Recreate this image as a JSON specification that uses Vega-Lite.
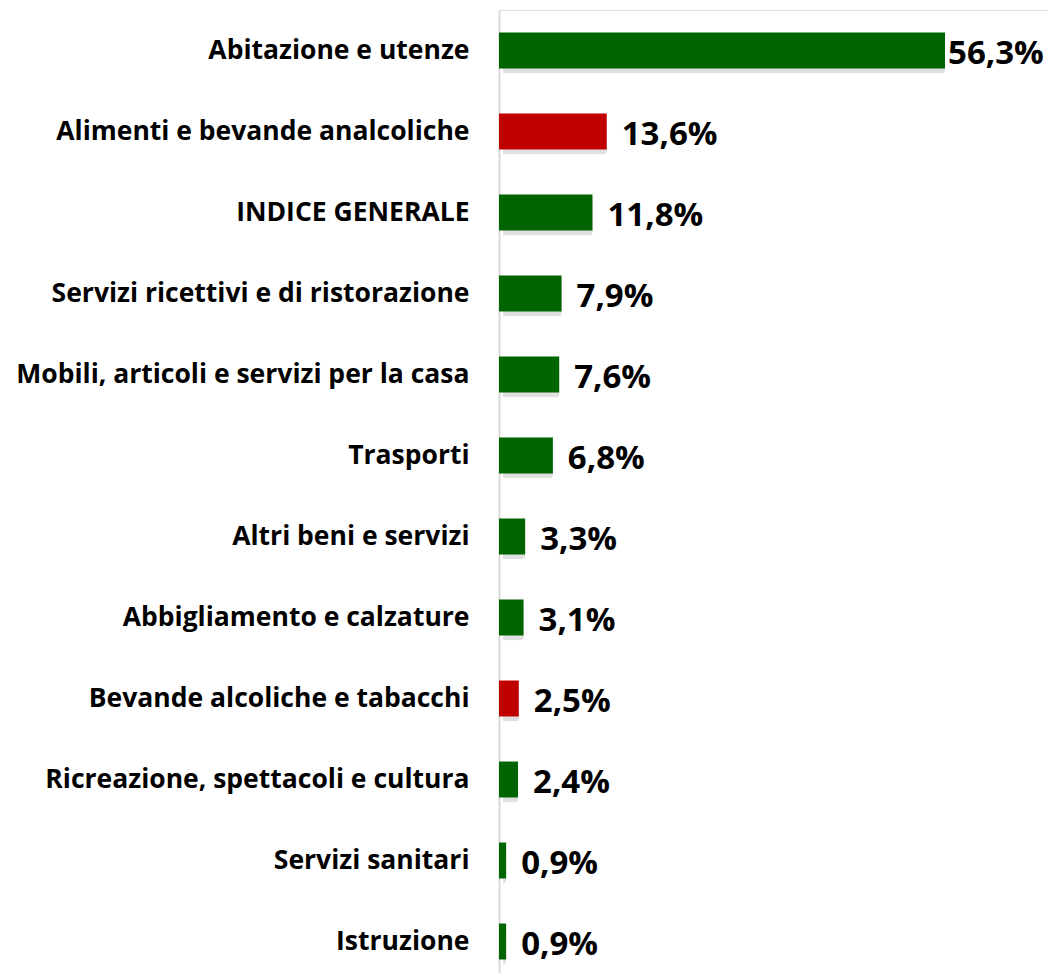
{
  "$schema": "https://vega.github.io/schema/vega-lite/v6.json",
  "autosize": {"type": "none"},
  "padding": {"left": 499, "top": 10, "right": 0, "bottom": 0},
  "width": 549,
  "height": 972,
  "background": "white",
  "data": {"values": [
    {"categoria": "Abitazione e utenze", "valore": 56.3, "label": "56,3%", "tipo": "verde"},
    {"categoria": "Alimenti e bevande analcoliche", "valore": 13.6, "label": "13,6%", "tipo": "rosso"},
    {"categoria": "INDICE GENERALE", "valore": 11.8, "label": "11,8%", "tipo": "verde"},
    {"categoria": "Servizi ricettivi e di ristorazione", "valore": 7.9, "label": "7,9%", "tipo": "verde"},
    {"categoria": "Mobili, articoli e servizi per la casa", "valore": 7.6, "label": "7,6%", "tipo": "verde"},
    {"categoria": "Trasporti", "valore": 6.8, "label": "6,8%", "tipo": "verde"},
    {"categoria": "Altri beni e servizi ", "valore": 3.3, "label": "3,3%", "tipo": "verde"},
    {"categoria": "Abbigliamento e calzature", "valore": 3.1, "label": "3,1%", "tipo": "verde"},
    {"categoria": "Bevande alcoliche e tabacchi", "valore": 2.5, "label": "2,5%", "tipo": "rosso"},
    {"categoria": "Ricreazione, spettacoli e cultura", "valore": 2.4, "label": "2,4%", "tipo": "verde"},
    {"categoria": "Servizi sanitari", "valore": 0.9, "label": "0,9%", "tipo": "verde"},
    {"categoria": "Istruzione", "valore": 0.9, "label": "0,9%", "tipo": "verde"}
  ]},
  "encoding": {
    "y": {
      "field": "categoria", "type": "nominal", "sort": null,
      "scale": {"paddingInner": 0.556, "paddingOuter": 0.278},
      "axis": {
        "title": null, "ticks": false, "domainColor": "#d9d9d9", "domainWidth": 2,
        "labelFont": "Open Sans", "labelFontWeight": "bold", "labelFontSize": 26.5,
        "labelColor": "#000000", "labelPadding": 30, "labelLimit": 700
      }
    },
    "x": {
      "field": "valore", "type": "quantitative",
      "scale": {"domain": [0, 69.3], "nice": false, "zero": true},
      "axis": null
    }
  },
  "layer": [
    {
      "mark": {"type": "bar", "color": "#000000", "opacity": 0.12, "xOffset": 4, "yOffset": 5, "cornerRadius": 3}
    },
    {
      "mark": {"type": "bar"},
      "encoding": {
        "color": {
          "field": "tipo", "type": "nominal",
          "scale": {"domain": ["verde", "rosso"], "range": ["#006400", "#C00000"]},
          "legend": null
        }
      }
    },
    {
      "transform": [{"filter": "datum.valore < 50"}],
      "mark": {"type": "text", "align": "left", "baseline": "middle", "dx": 15, "dy": 3, "font": "Open Sans", "fontWeight": "bold", "fontSize": 33, "color": "#000000"},
      "encoding": {"text": {"field": "label"}}
    },
    {
      "transform": [{"filter": "datum.valore >= 50"}],
      "mark": {"type": "text", "align": "left", "baseline": "middle", "dx": 3, "dy": 3, "font": "Open Sans", "fontWeight": "bold", "fontSize": 33, "color": "#000000"},
      "encoding": {"text": {"field": "label"}}
    }
  ]
}
